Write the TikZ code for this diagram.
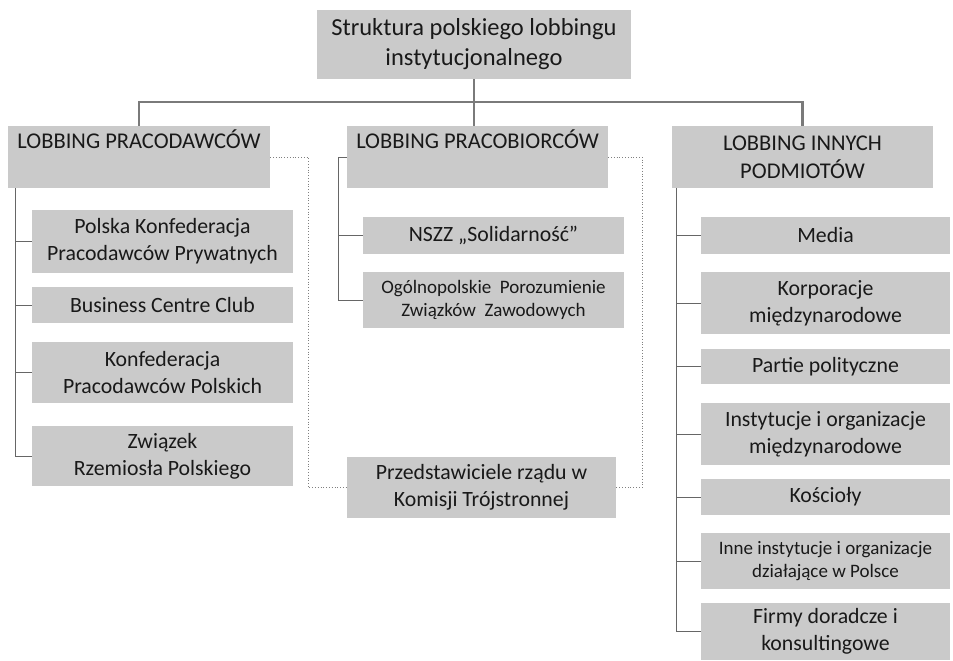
\documentclass[tikz,border=0pt]{standalone}
\usepackage{fontspec}
\setmainfont{Carlito}
\begin{document}
\begin{tikzpicture}[x=1pt,y=-1pt,
  box/.style={draw=none,fill=boxgray,inner sep=0pt,align=center,text=black!90,font=\fontsize{21.8}{27}\selectfont},
  small/.style={font=\fontsize{19}{23}\selectfont},
  head/.style={font=\fontsize{22.5}{28}\selectfont},
  bigline/.style={draw=black!52,line width=2.8pt},
  thin/.style={draw=black!60,line width=0.9pt},
  dots/.style={draw=black!50,line width=0.8pt,dotted}]
\definecolor{boxgray}{RGB}{202,202,202}
\useasboundingbox[fill=white] (0,0) rectangle (953,661);
% root
\node[box,minimum width=314,minimum height=69,font=\fontsize{24.5}{30}\selectfont] (root) at (474,44.5) {Struktura polskiego lobbingu\\instytucjonalnego};
% level 1
\node[box,head,minimum width=262,minimum height=62] (la) at (139,157) {LOBBING PRACODAWCÓW\\\strut};
\node[box,head,minimum width=261,minimum height=62] (lb) at (477.5,157) {LOBBING PRACOBIORCÓW\\\strut};
\node[box,head,minimum width=261,minimum height=62] (lc) at (802.5,157) {LOBBING INNYCH\\PODMIOTÓW};
% left children
\node[box,minimum width=261,minimum height=63] (a1) at (162.5,241.5) {Polska Konfederacja\\Pracodawców Prywatnych};
\node[box,minimum width=261,minimum height=36] (a2) at (162.5,305) {Business Centre Club};
\node[box,minimum width=261,minimum height=61] (a3) at (162.5,372.5) {Konfederacja\\Pracodawców Polskich};
\node[box,minimum width=261,minimum height=60] (a4) at (162.5,456) {Związek\\Rzemiosła Polskiego};
% middle children
\node[box,minimum width=261,minimum height=37] (b1) at (493.5,235.5) {NSZZ „Solidarność”};
\node[box,small,minimum width=261,minimum height=56] (b2) at (493.5,300) {Ogólnopolskie\ \ Porozumienie\\Związków\ \ Zawodowych};
\node[box,minimum width=269,minimum height=61] (b3) at (481.5,487.5) {Przedstawiciele rządu w\\Komisji Trójstronnej};
% right children
\node[box,minimum width=249,minimum height=37] (c1) at (825.5,235.5) {Media};
\node[box,minimum width=249,minimum height=62] (c2) at (825.5,303) {Korporacje\\międzynarodowe};
\node[box,minimum width=249,minimum height=35] (c3) at (825.5,366.5) {Partie polityczne};
\node[box,minimum width=249,minimum height=62] (c4) at (825.5,434) {Instytucje i organizacje\\międzynarodowe};
\node[box,minimum width=249,minimum height=36] (c5) at (825.5,497) {Kościoły};
\node[box,small,minimum width=249,minimum height=56] (c6) at (825.5,561) {Inne instytucje i organizacje\\działające w Polsce};
\node[box,minimum width=249,minimum height=57] (c7) at (825.5,631.5) {Firmy doradcze i\\konsultingowe};
% top tree
\coordinate (bus) at (0,102);
\draw[bigline] (la.north) -- (la.north |- bus) -- (lc.north |- bus) -- (lc.north);
\draw[bigline] (root.south) -- (root.south |- lb.north);
% left spine
\coordinate (sa) at ([xshift=8pt]la.south west);
\draw[thin] (sa) |- (a4.west);
\foreach \n in {a1,a2,a3} \draw[thin] (\n.west) -- (\n.west -| sa);
% middle spine
\coordinate (sb) at ([xshift=-8pt]lb.west);
\draw[thin] (lb.west) -- (sb) |- (b2.west);
\draw[thin] (b1.west) -- (b1.west -| sb);
% right spine
\coordinate (sc) at ([xshift=5pt]lc.south west);
\draw[thin] (sc) |- (c7.west);
\foreach \n in {c1,c2,c3,c4,c5,c6} \draw[thin] (\n.west) -- (\n.west -| sc);
% dotted
\coordinate (da) at (308,0);
\coordinate (db) at (642,0);
\draw[dots] (la.east) -- (la.east -| da) -- (b3.west -| da) -- (b3.west);
\draw[dots] (lb.east) -- (lb.east -| db) -- (b3.east -| db) -- (b3.east);
\end{tikzpicture}
\end{document}
